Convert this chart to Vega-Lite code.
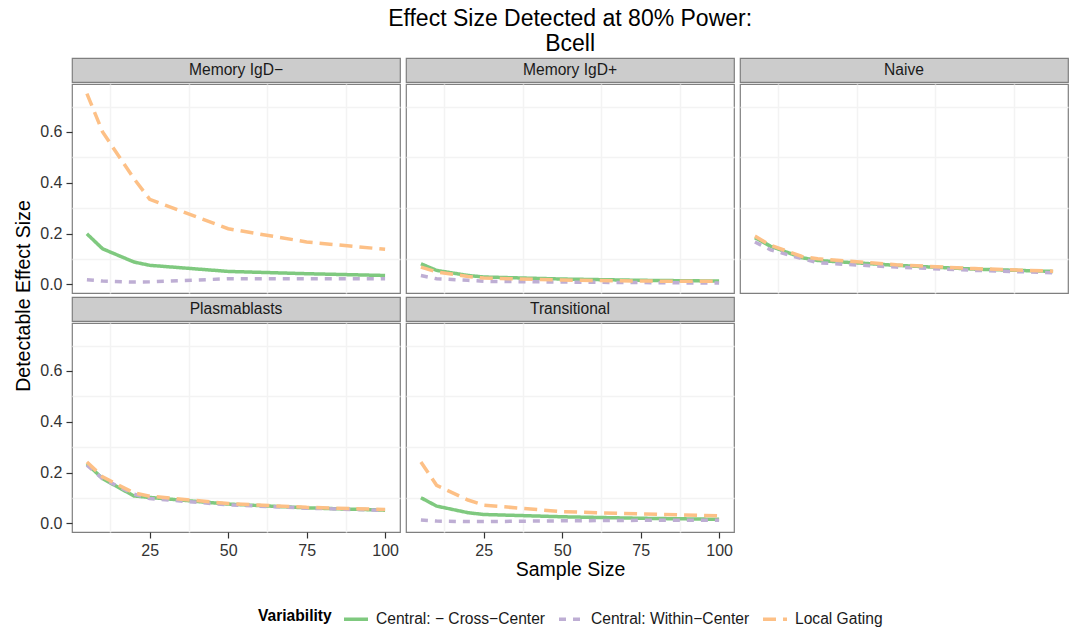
{
  "$schema": "https://vega.github.io/schema/vega-lite/v6.json",
  "background": "white",
  "padding": {"left": 13, "right": 5, "top": 8, "bottom": 0},
  "title": {"text": ["Effect Size Detected at 80% Power:", "Bcell"], "fontSize": 23, "fontWeight": "normal", "color": "#000000", "anchor": "middle", "lineHeight": 25, "offset": 1, "dx": 29},
  "datasets": {
    "power": [
      {"panel": "Memory IgD−", "variability": "Central: − Cross−Center", "n": 5, "effect": 0.199},
      {"panel": "Memory IgD−", "variability": "Central: − Cross−Center", "n": 10, "effect": 0.140},
      {"panel": "Memory IgD−", "variability": "Central: − Cross−Center", "n": 20, "effect": 0.088},
      {"panel": "Memory IgD−", "variability": "Central: − Cross−Center", "n": 25, "effect": 0.075},
      {"panel": "Memory IgD−", "variability": "Central: − Cross−Center", "n": 50, "effect": 0.051},
      {"panel": "Memory IgD−", "variability": "Central: − Cross−Center", "n": 75, "effect": 0.042},
      {"panel": "Memory IgD−", "variability": "Central: − Cross−Center", "n": 100, "effect": 0.035},
      {"panel": "Memory IgD−", "variability": "Central: Within−Center", "n": 5, "effect": 0.018},
      {"panel": "Memory IgD−", "variability": "Central: Within−Center", "n": 10, "effect": 0.013},
      {"panel": "Memory IgD−", "variability": "Central: Within−Center", "n": 20, "effect": 0.009},
      {"panel": "Memory IgD−", "variability": "Central: Within−Center", "n": 25, "effect": 0.010},
      {"panel": "Memory IgD−", "variability": "Central: Within−Center", "n": 50, "effect": 0.022},
      {"panel": "Memory IgD−", "variability": "Central: Within−Center", "n": 75, "effect": 0.022},
      {"panel": "Memory IgD−", "variability": "Central: Within−Center", "n": 100, "effect": 0.022},
      {"panel": "Memory IgD−", "variability": "Local Gating", "n": 5, "effect": 0.751},
      {"panel": "Memory IgD−", "variability": "Local Gating", "n": 10, "effect": 0.600},
      {"panel": "Memory IgD−", "variability": "Local Gating", "n": 20, "effect": 0.416},
      {"panel": "Memory IgD−", "variability": "Local Gating", "n": 25, "effect": 0.335},
      {"panel": "Memory IgD−", "variability": "Local Gating", "n": 50, "effect": 0.219},
      {"panel": "Memory IgD−", "variability": "Local Gating", "n": 75, "effect": 0.167},
      {"panel": "Memory IgD−", "variability": "Local Gating", "n": 100, "effect": 0.138},

      {"panel": "Memory IgD+", "variability": "Central: − Cross−Center", "n": 5, "effect": 0.081},
      {"panel": "Memory IgD+", "variability": "Central: − Cross−Center", "n": 10, "effect": 0.055},
      {"panel": "Memory IgD+", "variability": "Central: − Cross−Center", "n": 20, "effect": 0.035},
      {"panel": "Memory IgD+", "variability": "Central: − Cross−Center", "n": 25, "effect": 0.029},
      {"panel": "Memory IgD+", "variability": "Central: − Cross−Center", "n": 50, "effect": 0.021},
      {"panel": "Memory IgD+", "variability": "Central: − Cross−Center", "n": 75, "effect": 0.016},
      {"panel": "Memory IgD+", "variability": "Central: − Cross−Center", "n": 100, "effect": 0.013},
      {"panel": "Memory IgD+", "variability": "Central: Within−Center", "n": 5, "effect": 0.035},
      {"panel": "Memory IgD+", "variability": "Central: Within−Center", "n": 10, "effect": 0.022},
      {"panel": "Memory IgD+", "variability": "Central: Within−Center", "n": 20, "effect": 0.016},
      {"panel": "Memory IgD+", "variability": "Central: Within−Center", "n": 25, "effect": 0.012},
      {"panel": "Memory IgD+", "variability": "Central: Within−Center", "n": 50, "effect": 0.009},
      {"panel": "Memory IgD+", "variability": "Central: Within−Center", "n": 75, "effect": 0.007},
      {"panel": "Memory IgD+", "variability": "Central: Within−Center", "n": 100, "effect": 0.005},
      {"panel": "Memory IgD+", "variability": "Local Gating", "n": 5, "effect": 0.068},
      {"panel": "Memory IgD+", "variability": "Local Gating", "n": 10, "effect": 0.049},
      {"panel": "Memory IgD+", "variability": "Local Gating", "n": 20, "effect": 0.031},
      {"panel": "Memory IgD+", "variability": "Local Gating", "n": 25, "effect": 0.025},
      {"panel": "Memory IgD+", "variability": "Local Gating", "n": 50, "effect": 0.017},
      {"panel": "Memory IgD+", "variability": "Local Gating", "n": 75, "effect": 0.013},
      {"panel": "Memory IgD+", "variability": "Local Gating", "n": 100, "effect": 0.012},

      {"panel": "Naive", "variability": "Central: − Cross−Center", "n": 5, "effect": 0.184},
      {"panel": "Naive", "variability": "Central: − Cross−Center", "n": 10, "effect": 0.150},
      {"panel": "Naive", "variability": "Central: − Cross−Center", "n": 20, "effect": 0.105},
      {"panel": "Naive", "variability": "Central: − Cross−Center", "n": 25, "effect": 0.094},
      {"panel": "Naive", "variability": "Central: − Cross−Center", "n": 50, "effect": 0.075},
      {"panel": "Naive", "variability": "Central: − Cross−Center", "n": 75, "effect": 0.060},
      {"panel": "Naive", "variability": "Central: − Cross−Center", "n": 100, "effect": 0.051},
      {"panel": "Naive", "variability": "Central: Within−Center", "n": 5, "effect": 0.167},
      {"panel": "Naive", "variability": "Central: Within−Center", "n": 10, "effect": 0.136},
      {"panel": "Naive", "variability": "Central: Within−Center", "n": 20, "effect": 0.101},
      {"panel": "Naive", "variability": "Central: Within−Center", "n": 25, "effect": 0.085},
      {"panel": "Naive", "variability": "Central: Within−Center", "n": 50, "effect": 0.068},
      {"panel": "Naive", "variability": "Central: Within−Center", "n": 75, "effect": 0.055},
      {"panel": "Naive", "variability": "Central: Within−Center", "n": 100, "effect": 0.046},
      {"panel": "Naive", "variability": "Local Gating", "n": 5, "effect": 0.190},
      {"panel": "Naive", "variability": "Local Gating", "n": 10, "effect": 0.154},
      {"panel": "Naive", "variability": "Local Gating", "n": 20, "effect": 0.110},
      {"panel": "Naive", "variability": "Local Gating", "n": 25, "effect": 0.101},
      {"panel": "Naive", "variability": "Local Gating", "n": 50, "effect": 0.077},
      {"panel": "Naive", "variability": "Local Gating", "n": 75, "effect": 0.062},
      {"panel": "Naive", "variability": "Local Gating", "n": 100, "effect": 0.052},

      {"panel": "Plasmablasts", "variability": "Central: − Cross−Center", "n": 5, "effect": 0.235},
      {"panel": "Plasmablasts", "variability": "Central: − Cross−Center", "n": 10, "effect": 0.176},
      {"panel": "Plasmablasts", "variability": "Central: − Cross−Center", "n": 20, "effect": 0.108},
      {"panel": "Plasmablasts", "variability": "Central: − Cross−Center", "n": 25, "effect": 0.102},
      {"panel": "Plasmablasts", "variability": "Central: − Cross−Center", "n": 50, "effect": 0.076},
      {"panel": "Plasmablasts", "variability": "Central: − Cross−Center", "n": 75, "effect": 0.061},
      {"panel": "Plasmablasts", "variability": "Central: − Cross−Center", "n": 100, "effect": 0.052},
      {"panel": "Plasmablasts", "variability": "Central: Within−Center", "n": 5, "effect": 0.229},
      {"panel": "Plasmablasts", "variability": "Central: Within−Center", "n": 10, "effect": 0.176},
      {"panel": "Plasmablasts", "variability": "Central: Within−Center", "n": 20, "effect": 0.115},
      {"panel": "Plasmablasts", "variability": "Central: Within−Center", "n": 25, "effect": 0.098},
      {"panel": "Plasmablasts", "variability": "Central: Within−Center", "n": 50, "effect": 0.073},
      {"panel": "Plasmablasts", "variability": "Central: Within−Center", "n": 75, "effect": 0.060},
      {"panel": "Plasmablasts", "variability": "Central: Within−Center", "n": 100, "effect": 0.051},
      {"panel": "Plasmablasts", "variability": "Local Gating", "n": 5, "effect": 0.242},
      {"panel": "Plasmablasts", "variability": "Local Gating", "n": 10, "effect": 0.183},
      {"panel": "Plasmablasts", "variability": "Local Gating", "n": 20, "effect": 0.120},
      {"panel": "Plasmablasts", "variability": "Local Gating", "n": 25, "effect": 0.107},
      {"panel": "Plasmablasts", "variability": "Local Gating", "n": 50, "effect": 0.078},
      {"panel": "Plasmablasts", "variability": "Local Gating", "n": 75, "effect": 0.063},
      {"panel": "Plasmablasts", "variability": "Local Gating", "n": 100, "effect": 0.055},

      {"panel": "Transitional", "variability": "Central: − Cross−Center", "n": 5, "effect": 0.101},
      {"panel": "Transitional", "variability": "Central: − Cross−Center", "n": 10, "effect": 0.068},
      {"panel": "Transitional", "variability": "Central: − Cross−Center", "n": 20, "effect": 0.042},
      {"panel": "Transitional", "variability": "Central: − Cross−Center", "n": 25, "effect": 0.035},
      {"panel": "Transitional", "variability": "Central: − Cross−Center", "n": 50, "effect": 0.026},
      {"panel": "Transitional", "variability": "Central: − Cross−Center", "n": 75, "effect": 0.020},
      {"panel": "Transitional", "variability": "Central: − Cross−Center", "n": 100, "effect": 0.016},
      {"panel": "Transitional", "variability": "Central: Within−Center", "n": 5, "effect": 0.013},
      {"panel": "Transitional", "variability": "Central: Within−Center", "n": 10, "effect": 0.009},
      {"panel": "Transitional", "variability": "Central: Within−Center", "n": 20, "effect": 0.007},
      {"panel": "Transitional", "variability": "Central: Within−Center", "n": 25, "effect": 0.007},
      {"panel": "Transitional", "variability": "Central: Within−Center", "n": 50, "effect": 0.010},
      {"panel": "Transitional", "variability": "Central: Within−Center", "n": 75, "effect": 0.012},
      {"panel": "Transitional", "variability": "Central: Within−Center", "n": 100, "effect": 0.012},
      {"panel": "Transitional", "variability": "Local Gating", "n": 5, "effect": 0.242},
      {"panel": "Transitional", "variability": "Local Gating", "n": 10, "effect": 0.150},
      {"panel": "Transitional", "variability": "Local Gating", "n": 20, "effect": 0.092},
      {"panel": "Transitional", "variability": "Local Gating", "n": 25, "effect": 0.072},
      {"panel": "Transitional", "variability": "Local Gating", "n": 50, "effect": 0.046},
      {"panel": "Transitional", "variability": "Local Gating", "n": 75, "effect": 0.037},
      {"panel": "Transitional", "variability": "Local Gating", "n": 100, "effect": 0.030}
    ]
  },
  "spacing": 4,
  "resolve": {"scale": {"color": "shared", "strokeDash": "shared"}, "legend": {"color": "shared", "strokeDash": "shared"}},
  "hconcat": [
    {
      "title": {"text": "Detectable Effect Size", "orient": "left", "anchor": "middle", "fontSize": 19.5, "fontWeight": "normal", "color": "#000000", "offset": 5, "dx": 12},
      "spacing": 2,
      "vconcat": [
        {
          "spacing": 0,
          "vconcat": [
            {"width": 328, "height": 24, "view": {"fill": "#cccccc", "stroke": "#7f7f7f", "strokeWidth": 1.2},
             "data": {"values": [{"panel": "Memory IgD−"}]},
             "mark": {"type": "text", "fontSize": 15.6, "color": "#1a1a1a"},
             "encoding": {"text": {"field": "panel", "type": "nominal"}}},
            {"width": 328, "height": 209, "data": {"name": "power"},
             "transform": [{"filter": "datum.panel === 'Memory IgD−'"}],
             "layer": [
               {"mark": {"type": "point", "opacity": 0},
                "encoding": {
                  "x": {"field": "n", "type": "quantitative", "scale": {"domain": [0.25, 104.75], "nice": false, "zero": false}, "axis": {"orient": "bottom", "values": [12.5, 37.5, 62.5, 87.5], "title": null, "labels": false, "ticks": false, "gridColor": "#f3f3f3", "gridWidth": 1.5}},
                  "y": {"field": "effect", "type": "quantitative", "scale": {"domain": [-0.034, 0.789], "nice": false, "zero": false}, "axis": {"orient": "left", "values": [0.1, 0.3, 0.5, 0.7], "title": null, "labels": false, "ticks": false, "gridColor": "#f3f3f3", "gridWidth": 1.5}}}},
               {"mark": {"type": "line", "strokeWidth": 3.5},
                "encoding": {
                  "x": {"field": "n", "type": "quantitative", "scale": {"domain": [0.25, 104.75], "nice": false, "zero": false}, "axis": {"orient": "bottom", "values": [25, 50, 75, 100], "title": null, "labels": false, "ticks": false}},
                  "y": {"field": "effect", "type": "quantitative", "scale": {"domain": [-0.034, 0.789], "nice": false, "zero": false}, "axis": {"orient": "left", "values": [0, 0.2, 0.4, 0.6], "format": ".1f", "title": null}},
                  "color": {"field": "variability", "type": "nominal", "title": "Variability", "scale": {"domain": ["Central: − Cross−Center", "Central: Within−Center", "Local Gating"], "range": ["#7fc97f", "#beaed4", "#fdc086"]}, "legend": {"orient": "none", "legendX": 186, "legendY": 547, "direction": "horizontal", "titleOrient": "left"}},
                  "strokeDash": {"field": "variability", "type": "nominal", "title": "Variability", "scale": {"domain": ["Central: − Cross−Center", "Central: Within−Center", "Local Gating"], "range": [[1, 0], [7, 7], [13, 7]]}, "legend": {"orient": "none", "legendX": 186, "legendY": 547, "direction": "horizontal", "titleOrient": "left"}}}}
             ],
             "resolve": {"axis": {"x": "independent", "y": "independent"}}}
          ]
        },
        {
          "spacing": 0,
          "vconcat": [
            {"width": 328, "height": 24, "view": {"fill": "#cccccc", "stroke": "#7f7f7f", "strokeWidth": 1.2},
             "data": {"values": [{"panel": "Plasmablasts"}]},
             "mark": {"type": "text", "fontSize": 15.6, "color": "#1a1a1a"},
             "encoding": {"text": {"field": "panel", "type": "nominal"}}},
            {"width": 328, "height": 209, "data": {"name": "power"},
             "transform": [{"filter": "datum.panel === 'Plasmablasts'"}],
             "layer": [
               {"mark": {"type": "point", "opacity": 0},
                "encoding": {
                  "x": {"field": "n", "type": "quantitative", "scale": {"domain": [0.25, 104.75], "nice": false, "zero": false}, "axis": {"orient": "bottom", "values": [12.5, 37.5, 62.5, 87.5], "title": null, "labels": false, "ticks": false, "gridColor": "#f3f3f3", "gridWidth": 1.5}},
                  "y": {"field": "effect", "type": "quantitative", "scale": {"domain": [-0.034, 0.789], "nice": false, "zero": false}, "axis": {"orient": "left", "values": [0.1, 0.3, 0.5, 0.7], "title": null, "labels": false, "ticks": false, "gridColor": "#f3f3f3", "gridWidth": 1.5}}}},
               {"mark": {"type": "line", "strokeWidth": 3.5},
                "encoding": {
                  "x": {"field": "n", "type": "quantitative", "scale": {"domain": [0.25, 104.75], "nice": false, "zero": false}, "axis": {"orient": "bottom", "values": [25, 50, 75, 100], "title": null}},
                  "y": {"field": "effect", "type": "quantitative", "scale": {"domain": [-0.034, 0.789], "nice": false, "zero": false}, "axis": {"orient": "left", "values": [0, 0.2, 0.4, 0.6], "format": ".1f", "title": null}},
                  "color": {"field": "variability", "type": "nominal", "title": "Variability", "scale": {"domain": ["Central: − Cross−Center", "Central: Within−Center", "Local Gating"], "range": ["#7fc97f", "#beaed4", "#fdc086"]}},
                  "strokeDash": {"field": "variability", "type": "nominal", "title": "Variability", "scale": {"domain": ["Central: − Cross−Center", "Central: Within−Center", "Local Gating"], "range": [[1, 0], [7, 7], [13, 7]]}}}}
             ],
             "resolve": {"axis": {"x": "independent", "y": "independent"}}}
          ]
        }
      ]
    },
    {
      "spacing": 2,
      "vconcat": [
        {
          "spacing": 0,
          "vconcat": [
            {"width": 328, "height": 24, "view": {"fill": "#cccccc", "stroke": "#7f7f7f", "strokeWidth": 1.2},
             "data": {"values": [{"panel": "Memory IgD+"}]},
             "mark": {"type": "text", "fontSize": 15.6, "color": "#1a1a1a"},
             "encoding": {"text": {"field": "panel", "type": "nominal"}}},
            {"width": 328, "height": 209, "data": {"name": "power"},
             "transform": [{"filter": "datum.panel === 'Memory IgD+'"}],
             "layer": [
               {"mark": {"type": "point", "opacity": 0},
                "encoding": {
                  "x": {"field": "n", "type": "quantitative", "scale": {"domain": [0.25, 104.75], "nice": false, "zero": false}, "axis": {"orient": "bottom", "values": [12.5, 37.5, 62.5, 87.5], "title": null, "labels": false, "ticks": false, "gridColor": "#f3f3f3", "gridWidth": 1.5}},
                  "y": {"field": "effect", "type": "quantitative", "scale": {"domain": [-0.034, 0.789], "nice": false, "zero": false}, "axis": {"orient": "left", "values": [0.1, 0.3, 0.5, 0.7], "title": null, "labels": false, "ticks": false, "gridColor": "#f3f3f3", "gridWidth": 1.5}}}},
               {"mark": {"type": "line", "strokeWidth": 3.5},
                "encoding": {
                  "x": {"field": "n", "type": "quantitative", "scale": {"domain": [0.25, 104.75], "nice": false, "zero": false}, "axis": {"orient": "bottom", "values": [25, 50, 75, 100], "title": null, "labels": false, "ticks": false}},
                  "y": {"field": "effect", "type": "quantitative", "scale": {"domain": [-0.034, 0.789], "nice": false, "zero": false}, "axis": {"orient": "left", "values": [0, 0.2, 0.4, 0.6], "title": null, "labels": false, "ticks": false}},
                  "color": {"field": "variability", "type": "nominal", "title": "Variability", "scale": {"domain": ["Central: − Cross−Center", "Central: Within−Center", "Local Gating"], "range": ["#7fc97f", "#beaed4", "#fdc086"]}},
                  "strokeDash": {"field": "variability", "type": "nominal", "title": "Variability", "scale": {"domain": ["Central: − Cross−Center", "Central: Within−Center", "Local Gating"], "range": [[1, 0], [7, 7], [13, 7]]}}}}
             ],
             "resolve": {"axis": {"x": "independent", "y": "independent"}}}
          ]
        },
        {
          "spacing": 0,
          "vconcat": [
            {"width": 328, "height": 24, "view": {"fill": "#cccccc", "stroke": "#7f7f7f", "strokeWidth": 1.2},
             "data": {"values": [{"panel": "Transitional"}]},
             "mark": {"type": "text", "fontSize": 15.6, "color": "#1a1a1a"},
             "encoding": {"text": {"field": "panel", "type": "nominal"}}},
            {"width": 328, "height": 209, "data": {"name": "power"},
             "transform": [{"filter": "datum.panel === 'Transitional'"}],
             "layer": [
               {"mark": {"type": "point", "opacity": 0},
                "encoding": {
                  "x": {"field": "n", "type": "quantitative", "scale": {"domain": [0.25, 104.75], "nice": false, "zero": false}, "axis": {"orient": "bottom", "values": [12.5, 37.5, 62.5, 87.5], "title": null, "labels": false, "ticks": false, "gridColor": "#f3f3f3", "gridWidth": 1.5}},
                  "y": {"field": "effect", "type": "quantitative", "scale": {"domain": [-0.034, 0.789], "nice": false, "zero": false}, "axis": {"orient": "left", "values": [0.1, 0.3, 0.5, 0.7], "title": null, "labels": false, "ticks": false, "gridColor": "#f3f3f3", "gridWidth": 1.5}}}},
               {"mark": {"type": "line", "strokeWidth": 3.5},
                "encoding": {
                  "x": {"field": "n", "type": "quantitative", "scale": {"domain": [0.25, 104.75], "nice": false, "zero": false}, "axis": {"orient": "bottom", "values": [25, 50, 75, 100], "title": "Sample Size", "titlePadding": 2}},
                  "y": {"field": "effect", "type": "quantitative", "scale": {"domain": [-0.034, 0.789], "nice": false, "zero": false}, "axis": {"orient": "left", "values": [0, 0.2, 0.4, 0.6], "title": null, "labels": false, "ticks": false}},
                  "color": {"field": "variability", "type": "nominal", "title": "Variability", "scale": {"domain": ["Central: − Cross−Center", "Central: Within−Center", "Local Gating"], "range": ["#7fc97f", "#beaed4", "#fdc086"]}},
                  "strokeDash": {"field": "variability", "type": "nominal", "title": "Variability", "scale": {"domain": ["Central: − Cross−Center", "Central: Within−Center", "Local Gating"], "range": [[1, 0], [7, 7], [13, 7]]}}}}
             ],
             "resolve": {"axis": {"x": "independent", "y": "independent"}}}
          ]
        }
      ]
    },
    {
      "vconcat": [
        {
          "spacing": 0,
          "vconcat": [
            {"width": 328, "height": 24, "view": {"fill": "#cccccc", "stroke": "#7f7f7f", "strokeWidth": 1.2},
             "data": {"values": [{"panel": "Naive"}]},
             "mark": {"type": "text", "fontSize": 15.6, "color": "#1a1a1a"},
             "encoding": {"text": {"field": "panel", "type": "nominal"}}},
            {"width": 328, "height": 209, "data": {"name": "power"},
             "transform": [{"filter": "datum.panel === 'Naive'"}],
             "layer": [
               {"mark": {"type": "point", "opacity": 0},
                "encoding": {
                  "x": {"field": "n", "type": "quantitative", "scale": {"domain": [0.25, 104.75], "nice": false, "zero": false}, "axis": {"orient": "bottom", "values": [12.5, 37.5, 62.5, 87.5], "title": null, "labels": false, "ticks": false, "gridColor": "#f3f3f3", "gridWidth": 1.5}},
                  "y": {"field": "effect", "type": "quantitative", "scale": {"domain": [-0.034, 0.789], "nice": false, "zero": false}, "axis": {"orient": "left", "values": [0.1, 0.3, 0.5, 0.7], "title": null, "labels": false, "ticks": false, "gridColor": "#f3f3f3", "gridWidth": 1.5}}}},
               {"mark": {"type": "line", "strokeWidth": 3.5},
                "encoding": {
                  "x": {"field": "n", "type": "quantitative", "scale": {"domain": [0.25, 104.75], "nice": false, "zero": false}, "axis": {"orient": "bottom", "values": [25, 50, 75, 100], "title": null, "labels": false, "ticks": false}},
                  "y": {"field": "effect", "type": "quantitative", "scale": {"domain": [-0.034, 0.789], "nice": false, "zero": false}, "axis": {"orient": "left", "values": [0, 0.2, 0.4, 0.6], "title": null, "labels": false, "ticks": false}},
                  "color": {"field": "variability", "type": "nominal", "title": "Variability", "scale": {"domain": ["Central: − Cross−Center", "Central: Within−Center", "Local Gating"], "range": ["#7fc97f", "#beaed4", "#fdc086"]}},
                  "strokeDash": {"field": "variability", "type": "nominal", "title": "Variability", "scale": {"domain": ["Central: − Cross−Center", "Central: Within−Center", "Local Gating"], "range": [[1, 0], [7, 7], [13, 7]]}}}}
             ],
             "resolve": {"axis": {"x": "independent", "y": "independent"}}}
          ]
        }
      ]
    }
  ],
  "config": {
    "font": "Liberation Sans",
    "view": {"stroke": "#7f7f7f", "strokeWidth": 1.2},
    "axis": {"domain": false, "grid": true, "gridColor": "#e5e5e5", "gridWidth": 1, "tickColor": "#333333", "tickSize": 6, "tickWidth": 1.2, "labelFontSize": 16, "labelColor": "#333333", "labelPadding": 4, "titleFontSize": 19.5, "titleFontWeight": "normal", "titleColor": "#000000"},
    "legend": {"titleFontSize": 15.6, "titleFontWeight": "bold", "titleColor": "#000000", "titlePadding": 10, "labelFontSize": 15.6, "labelColor": "#1a1a1a", "symbolType": "stroke", "symbolSize": 576, "symbolStrokeWidth": 3.5, "columnPadding": 6, "labelOffset": 6, "labelLimit": 300}
  }
}
